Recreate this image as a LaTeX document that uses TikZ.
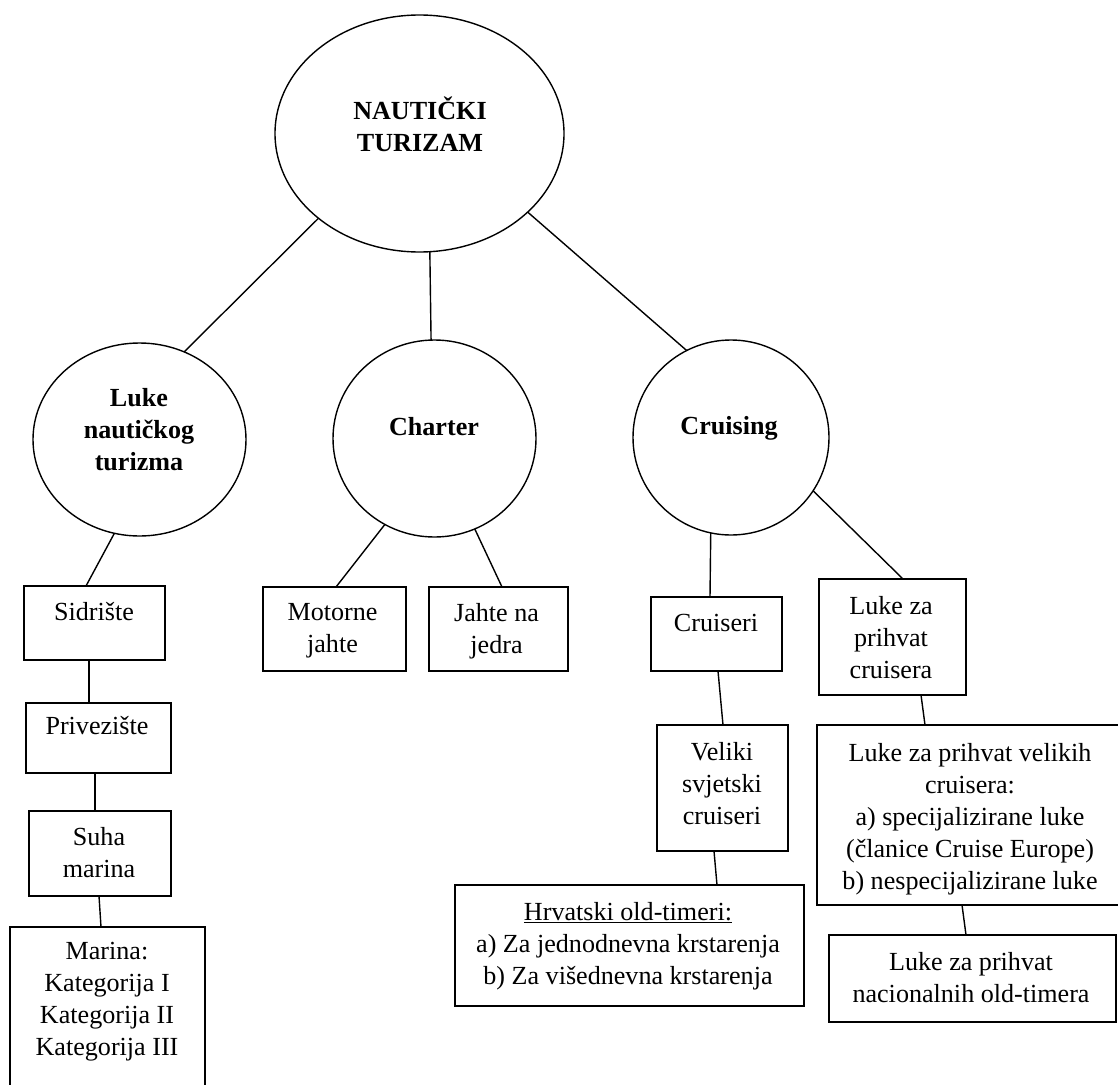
\documentclass[tikz,border=0pt]{standalone}
\usepackage{fontspec}
\setmainfont{Liberation Serif}
\usetikzlibrary{shapes.geometric}
\begin{document}
\begin{tikzpicture}[x=1pt,y=-1pt,
  every node/.style={font=\fontsize{26.1}{32}\selectfont},
  oval/.style={draw, ellipse, line width=1.4pt, inner sep=0pt, outer sep=0pt},
  boxn/.style={draw, rectangle, line width=1.6pt, inner sep=0pt, outer sep=0pt},
  txt/.style={align=center, inner sep=0pt},
  boldtxt/.style={align=center, inner sep=0pt, font=\fontsize{26.1}{32}\selectfont\bfseries},
  conn/.style={line width=1.4pt}]
\useasboundingbox (0,0) rectangle (1118,1084);
\clip (0,0) rectangle (1118,1084);
\fill[white] (0,0) rectangle (1118,1084);

% ellipses
\node[oval, minimum width=289pt, minimum height=237pt] (top) at (419.5,133.5) {};
\node[boldtxt] (topT) at (420,124.5) {NAUTIČKI\\TURIZAM};
\node[oval, minimum width=213pt, minimum height=193pt] (luke) at (139.5,439.5) {};
\node[boldtxt] (lukeT) at (139,429.5) {Luke\\nautičkog\\turizma};
\node[oval, minimum width=203pt, minimum height=197pt] (charter) at (434.5,438.5) {};
\node[boldtxt] (charterT) at (434,427) {Charter};
\node[oval, minimum width=196pt, minimum height=195pt] (cruising) at (731,437.5) {};
\node[boldtxt] (cruisingT) at (729,428.5) {Cruising};

% boxes left
\node[boxn, minimum width=141pt, minimum height=74pt] (sid) at (94.5,623) {};
\node[txt] (sidT) at (94,612) {Sidrište};
\node[boxn, minimum width=145pt, minimum height=70pt] (priv) at (98.5,738) {};
\node[txt] (privT) at (97,726) {Privezište};
\node[boxn, minimum width=142pt, minimum height=85pt] (suha) at (100,853.5) {};
\node[txt] (suhaT) at (99,852.5) {Suha\\marina};
\node[boxn, minimum width=195pt, minimum height=173pt] (marina) at (107.5,1013.5) {};
\node[txt] (marinaT) at (107,1002) {Marina:\\Kategorija I\\Kategorija II\\Kategorija III};

% charter boxes
\node[boxn, minimum width=143pt, minimum height=84pt] (mot) at (334.5,629) {};
\node[txt] (motT) at (332.5,631) {Motorne\\jahte};
\node[boxn, minimum width=139pt, minimum height=84pt] (jah) at (498.5,629) {};
\node[txt] (jahT) at (496.5,631) {Jahte na\\jedra};

% cruising boxes
\node[boxn, minimum width=131pt, minimum height=74pt] (cru) at (716.5,634) {};
\node[txt] (cruT) at (716,623) {Cruiseri};
\node[boxn, minimum width=131pt, minimum height=126pt] (vel) at (722.5,788) {};
\node[txt] (velT) at (722,784) {Veliki\\svjetski\\cruiseri};
\node[boxn, minimum width=349pt, minimum height=121pt] (hrv) at (629.5,945.5) {};
\node[txt] (hrvT) at (628,946) {\underline{Hrvatski old-timeri:}\\a) Za jednodnevna krstarenja\\b) Za višednevna krstarenja};
\node[boxn, minimum width=147pt, minimum height=116pt] (lzpc) at (892.5,637) {};
\node[txt] (lzpcT) at (891,638) {Luke za\\prihvat\\cruisera};
\node[boxn, minimum width=306pt, minimum height=180pt] (big) at (970,815) {};
\node[txt] (bigT) at (970,819) {Luke za prihvat velikih\\cruisera:\\a) specijalizirane luke\\(članice Cruise Europe)\\b) nespecijalizirane luke};
\node[boxn, minimum width=287pt, minimum height=87pt] (nac) at (972.5,978.5) {};
\node[txt] (nacT) at (971,977.5) {Luke za prihvat\\nacionalnih old-timera};

% connectors
\draw[conn] (top.-140.4) -- (luke.63.6);
\draw[conn] (top.-85.1) -- (charter.92.6);
\draw[conn] (top.-36.3) -- (cruising.117.2);
\draw[conn] (luke.-105.1) -- ([xshift=-8.5pt]sid.north);
\draw[conn] ([xshift=-5.5pt]sid.south) -- ([xshift=-9.5pt]priv.north);
\draw[conn] ([xshift=-3.5pt]priv.south) -- ([xshift=-5pt]suha.north);
\draw[conn] ([xshift=-1pt]suha.south) -- ([xshift=-6.5pt]marina.north);
\draw[conn] (charter.-120.7) -- ([xshift=1.5pt]mot.north);
\draw[conn] (charter.-66.1) -- ([xshift=3.5pt]jah.north);
\draw[conn] (cruising.-102.8) -- ([xshift=-6.5pt]cru.north);
\draw[conn] (cruising.-33.6) -- ([xshift=10.5pt]lzpc.north);
\draw[conn] ([xshift=1.5pt]cru.south) -- ([xshift=0.5pt]vel.north);
\draw[conn] ([xshift=-8.5pt]vel.south) -- ([xshift=87.5pt]hrv.north);
\draw[conn] ([xshift=28.5pt]lzpc.south) -- ([xshift=-45pt]big.north);
\draw[conn] ([xshift=-8pt]big.south) -- ([xshift=-6.5pt]nac.north);
\end{tikzpicture}
\end{document}
